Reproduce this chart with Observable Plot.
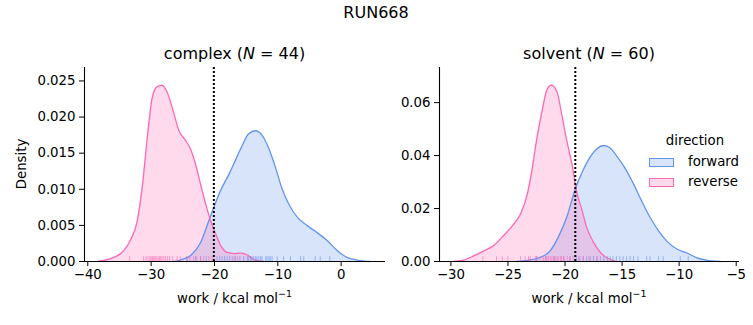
<!DOCTYPE html>
<html>
<head>
<meta charset="utf-8">
<script src="https://cdn.jsdelivr.net/npm/d3@7"></script>
<script src="https://cdn.jsdelivr.net/npm/@observablehq/plot@0.6"></script>
<style>
  html, body { margin: 0; padding: 0; background: white; }
  #fig { position: relative; width: 753px; height: 325px; font-family: "DejaVu Sans", sans-serif; color: black; overflow: hidden; }
  .abs { position: absolute; white-space: nowrap; line-height: 1; transform: translate(-50%, -50%); }
  .t16 { font-size: 16px; }
  .t13 { font-size: 13.3px; }
  sup { font-size: 9.5px; vertical-align: 6px; line-height: 0; }
  .panel { position: absolute; top: 30px; }
  .sw { position: absolute; width: 25px; height: 9px; box-sizing: border-box; }
</style>
</head>
<body>
<div id="fig">
  <div class="abs t16" style="left:376px; top:13px;">RUN668</div>
  <div class="abs t16" style="left:234.5px; top:54px;">complex (<i>N</i> = 44)</div>
  <div class="abs t16" style="left:589px; top:54px;">solvent (<i>N</i> = 60)</div>
  <div class="abs t13" style="left:234.5px; top:299px;">work / kcal mol<sup>−1</sup></div>
  <div class="abs t13" style="left:589px; top:299px;">work / kcal mol<sup>−1</sup></div>
  <div class="abs t13" style="left:22px; top:164px; transform: translate(-50%,-50%) rotate(-90deg);">Density</div>
  <div id="left" class="panel" style="left:0px;"></div>
  <div id="right" class="panel" style="left:395px;"></div>
  <div id="legend"></div>
</div>
<script>
// ---------- data ----------
const directions = ["forward", "reverse"];
const directionColors = ["#6495ED", "#FF69B4"];

// complex panel: density curves (work, density)
const complexForwardX = [-26.4, -25.4, -23.8, -22.2, -20.9, -20.1, -19.05, -17.7, -16.7, -15.6, -14.6, -13.5, -12.5, -11.4, -10.4, -9.3, -8.3, -6.9, -5.4, -3.8, -2.2, -0.6, 0.95, 2.5, 4.6];
const complexForwardDensity = [0, 0.0002, 0.0008, 0.0026, 0.0056, 0.0075, 0.0098, 0.0121, 0.0140, 0.0161, 0.0177, 0.0181, 0.0175, 0.0156, 0.0131, 0.0100, 0.0080, 0.0061, 0.0050, 0.0040, 0.0029, 0.0015, 0.00056, 0.0002, 0];
const complexReverseX = [-38.5, -35.9, -34.3, -33.3, -32.2, -31.4, -30.6, -29.8, -29.05, -28.3, -27.5, -26.7, -25.6, -24.6, -23.8, -23.0, -22.2, -21.4, -20.6, -19.8, -19.0, -18.0, -16.9, -15.9, -14.8, -13.8, -12.3];
const complexReverseDensity = [0, 0.00056, 0.0015, 0.0029, 0.0056, 0.0103, 0.0172, 0.0228, 0.0242, 0.0244, 0.0235, 0.0214, 0.0181, 0.0168, 0.0156, 0.0135, 0.0107, 0.0080, 0.0056, 0.0038, 0.0022, 0.00125, 0.0011, 0.00116, 0.0009, 0.0003, 0];
// complex panel: individual works (rug)
const complexForwardWork = [-24.3, -23.0, -22.2, -21.3, -19.6, -19.2, -18.8, -18.4, -18.0, -17.6, -17.2, -16.7, -16.0, -15.4, -14.8, -14.6, -14.3, -14.1, -13.8, -13.5, -13.3, -13.0, -12.7, -12.5, -11.9, -11.7, -11.4, -11.2, -10.9, -10.1, -9.1, -8.0, -6.4, -5.9, -4.1, -3.3, -1.8];
const complexReverseWork = [-33.4, -31.2, -30.8, -30.5, -30.2, -30.0, -29.8, -29.6, -29.4, -29.2, -28.9, -28.7, -28.5, -28.3, -28.0, -27.7, -27.4, -27.1, -26.6, -25.9, -25.4, -24.4, -23.9, -23.3, -22.8, -22.2, -21.7, -20.9, -20.4, -16.9, -16.4];
const complexReference = -20.1;

// solvent panel: density curves
const solventForwardX = [-24.2, -23.05, -22.2, -21.3, -20.6, -19.85, -19.1, -18.5, -17.8, -17.2, -16.6, -16.05, -15.5, -14.7, -14.0, -13.3, -12.55, -11.8, -11.1, -10.2, -9.3, -8.5, -7.6, -6.4];
const solventForwardDensity = [0, 0.0006, 0.0015, 0.0040, 0.0091, 0.0167, 0.0274, 0.0337, 0.0394, 0.0426, 0.0438, 0.0429, 0.0400, 0.0350, 0.0293, 0.0230, 0.0167, 0.0116, 0.0078, 0.0047, 0.0032, 0.0015, 0.0005, 0];
const solventReverseX = [-29.8, -28.9, -28.0, -27.1, -26.3, -25.4, -24.5, -23.9, -23.3, -22.9, -22.5, -22.0, -21.6, -21.2, -20.7, -20.3, -19.85, -19.4, -19.0, -18.5, -18.1, -17.5, -16.9, -16.3, -15.5];
const solventReverseDensity = [0, 0.0005, 0.0021, 0.0040, 0.0059, 0.0097, 0.0141, 0.0179, 0.0255, 0.0344, 0.0457, 0.0571, 0.0647, 0.0666, 0.0640, 0.0558, 0.0457, 0.0369, 0.0268, 0.0192, 0.0129, 0.0072, 0.0034, 0.0013, 0];
const solventForwardWork = [-22.5, -21.7, -20.9, -20.1, -19.55, -19.0, -18.7, -18.4, -18.1, -17.8, -17.5, -17.2, -16.9, -16.6, -16.3, -16.05, -15.8, -15.5, -15.2, -14.9, -14.6, -14.3, -14.0, -13.6, -12.85, -12.55, -11.8, -11.4, -9.9, -9.2];
const solventReverseWork = [-27.2, -26.0, -25.5, -25.0, -23.9, -23.5, -23.2, -23.05, -22.6, -22.4, -22.2, -21.9, -21.7, -21.6, -21.45, -21.3, -21.15, -21.0, -20.9, -20.7, -20.6, -20.4, -20.3, -20.1, -19.8, -19.6, -19.3, -18.8, -18.4, -17.9, -17.2];
const solventReference = -19.1;

// axis ticks
const complexXTicks = [-40, -30, -20, -10, 0];
const complexYTicks = [0, 0.005, 0.010, 0.015, 0.020, 0.025];
const solventXTicks = [-30, -25, -20, -15, -10, -5];
const solventYTicks = [0, 0.02, 0.04, 0.06];

// ---------- drawing ----------
function zipCurve(xs, ys) { return xs.map((x, i) => ({x, y: ys[i]})); }

function panel({fwdX, fwdY, revX, revY, fwdWork, revWork, ref, xDomain, yDomain, xTicks, yTicks, yFmt, width, marginLeft, marginRight}) {
  const rugH = yDomain[1] * 0.025;
  const curves = [[fwdX, fwdY, 0], [revX, revY, 1]];
  const rugs = [[fwdWork, 0], [revWork, 1]];
  const marks = [];
  for (const [xs, ys, k] of curves) {
    marks.push(Plot.areaY(zipCurve(xs, ys), {x: "x", y: "y", fill: directionColors[k], fillOpacity: 0.25, curve: "monotone-x"}));
  }
  for (const [xs, ys, k] of curves) {
    marks.push(Plot.lineY(zipCurve(xs, ys), {x: "x", y: "y", stroke: directionColors[k], strokeWidth: 1.3, curve: "monotone-x"}));
  }
  for (const [vals, k] of rugs) {
    marks.push(Plot.ruleX(vals, {x: d => d, y1: 0, y2: rugH, stroke: directionColors[k], strokeOpacity: 0.6, strokeWidth: 1}));
  }
  marks.push(Plot.ruleX([ref], {stroke: "black", strokeWidth: 2, strokeDasharray: "2,2"}));
  marks.push(Plot.ruleX([xDomain[0]], {stroke: "black", strokeWidth: 1.1}));
  marks.push(Plot.ruleY([0], {stroke: "black", strokeWidth: 1.1}));
  marks.push(Plot.axisX({ticks: xTicks, tickFormat: d => d < 0 ? "\u2212" + Math.abs(d) : String(d), tickSize: 5, tickPadding: 3, label: null}));
  marks.push(Plot.axisY({ticks: yTicks, tickFormat: yFmt, tickSize: 5, tickPadding: 4, label: null}));
  return Plot.plot({
    width, height: 295,
    marginLeft, marginRight, marginTop: 37, marginBottom: 64,
    x: {domain: xDomain},
    y: {domain: yDomain},
    style: {fontFamily: "DejaVu Sans", fontSize: "13.3px", color: "black", background: "transparent", overflow: "visible"},
    marks
  });
}

document.getElementById("left").appendChild(panel({
  fwdX: complexForwardX, fwdY: complexForwardDensity, revX: complexReverseX, revY: complexReverseDensity,
  fwdWork: complexForwardWork, revWork: complexReverseWork, ref: complexReference,
  xDomain: [-40.52, 7.0], yDomain: [0, 0.02686], xTicks: complexXTicks, yTicks: complexYTicks, yFmt: d3.format(".3f"),
  width: 390, marginLeft: 84, marginRight: 5
}));
document.getElementById("right").appendChild(panel({
  fwdX: solventForwardX, fwdY: solventForwardDensity, revX: solventReverseX, revY: solventReverseDensity,
  fwdWork: solventForwardWork, revWork: solventReverseWork, ref: solventReference,
  xDomain: [-31.0, -4.71], yDomain: [0, 0.07326], xTicks: solventXTicks, yTicks: solventYTicks, yFmt: d3.format(".2f"),
  width: 358, marginLeft: 44, marginRight: 14
}));

// legend
const legend = document.getElementById("legend");
const lt = document.createElement("div");
lt.className = "abs t13"; lt.style.left = "695px"; lt.style.top = "141px"; lt.textContent = "direction";
legend.appendChild(lt);
directions.forEach((name, i) => {
  const c = d3.color(directionColors[i]);
  const sw = document.createElement("div");
  sw.className = "sw";
  sw.style.left = "649px"; sw.style.top = (157.5 + i * 20.5) + "px";
  sw.style.border = "1.2px solid " + directionColors[i];
  sw.style.background = `rgba(${c.r},${c.g},${c.b},0.25)`;
  legend.appendChild(sw);
  const tx = document.createElement("div");
  tx.className = "t13";
  tx.style.position = "absolute"; tx.style.lineHeight = "1"; tx.style.whiteSpace = "nowrap";
  tx.style.left = "688px"; tx.style.top = (154.5 + i * 20.5) + "px";
  tx.textContent = name;
  legend.appendChild(tx);
});
</script>
</body>
</html>
